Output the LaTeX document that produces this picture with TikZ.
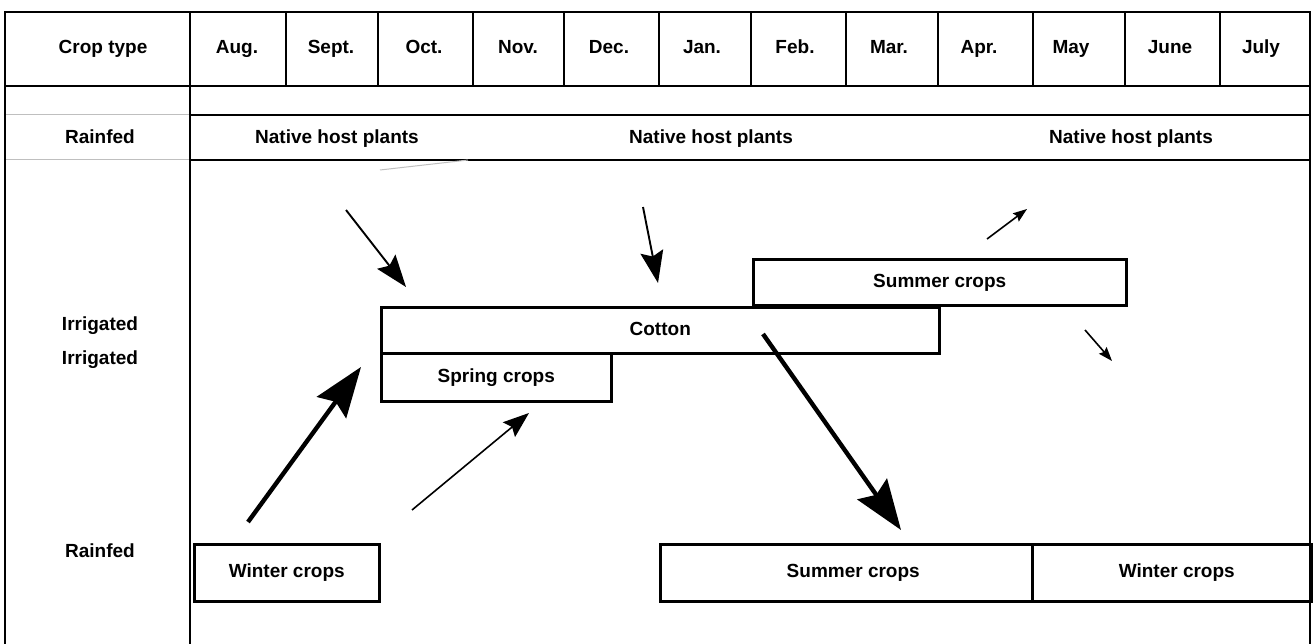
\documentclass[tikz,border=0pt]{standalone}
\usepackage{fontspec}
\setmainfont{Liberation Sans}
\usetikzlibrary{arrows.meta}
\begin{document}
\begin{tikzpicture}[x=1pt,y=-1pt,
  rule/.style={line width=2.4pt, black, line cap=rect},
  faint/.style={line width=1pt, black!25},
  lbl/.style={font=\fontsize{19}{22}\selectfont\bfseries, inner sep=0pt,
    text height=13.5pt, text depth=4pt},
  crop/.style={draw, line width=2.5pt, inner sep=0pt, anchor=north west,
    text height=13.5pt, text depth=4pt,
    font=\fontsize{19}{22}\selectfont\bfseries},
  thinarrow/.style={line width=1.9pt, -{Stealth[length=32pt,width=23pt,inset=5pt]}},
  midarrow/.style={line width=1.6pt, -{Stealth[length=26pt,width=19pt,inset=4pt]}},
  smallarrow/.style={line width=1.6pt, -{Stealth[length=14pt,width=10pt,inset=2pt]}},
  thickarrow/.style={line width=4.4pt, -{Stealth[length=50pt,width=36pt,inset=7pt]}}
]
\useasboundingbox (0,0) rectangle (1313,644);
\fill[white] (0,0) rectangle (1313,644);

% table frame
\draw[rule] (5,12) -- (1310,12);
\draw[rule] (5,86) -- (1310,86);
\draw[rule] (190,115) -- (1310,115);
\draw[rule] (190,160) -- (1310,160);
\draw[faint] (5,115) -- (190,115);
\draw[faint] (5,160) -- (190,160);
\draw[rule] (5,12) -- (5,644);
\draw[rule] (190,12) -- (190,644);
\draw[rule] (1310,12) -- (1310,644);
\foreach \x in {286,378,473,564,659,751,846,938,1033,1125,1220}
  \draw[rule] (\x,12) -- (\x,86);
\draw[faint] (380,170) -- (468,160);

% header
\node[lbl] (hct) at (103,49) {Crop type};
\node[lbl] (haug) at (237,49) {Aug.};
\node[lbl] (hsep) at (331,49) {Sept.};
\node[lbl] (hoct) at (424,49) {Oct.};
\node[lbl] (hnov) at (518,49) {Nov.};
\node[lbl] (hdec) at (609,49) {Dec.};
\node[lbl] (hjan) at (702,49) {Jan.};
\node[lbl] (hfeb) at (795,49) {Feb.};
\node[lbl] (hmar) at (889,49) {Mar.};
\node[lbl] (hapr) at (979,49) {Apr.};
\node[lbl] (hmay) at (1071,49) {May};
\node[lbl] (hjun) at (1170,49) {June};
\node[lbl] (hjul) at (1261,49) {July};

% left labels
\node[lbl] (rf1) at (100,139) {Rainfed};
\node[lbl] (ir1) at (100,326) {Irrigated};
\node[lbl] (ir2) at (100,360) {Irrigated};
\node[lbl] (rf2) at (100,553) {Rainfed};

% native host plants
\node[lbl] (nh1) at (337,139) {Native host plants};
\node[lbl] (nh2) at (711,139) {Native host plants};
\node[lbl] (nh3) at (1131,139) {Native host plants};

% crop boxes
\node[crop, minimum width=373, minimum height=46] (sumup) at (752,258) {Summer crops};
\node[crop, minimum width=558, minimum height=46] (cotton) at (380,306) {Cotton};
\node[crop, minimum width=230, minimum height=48] (spring) at (380,352) {Spring crops};
\node[crop, minimum width=185, minimum height=57] (winl) at (193,543) {Winter crops};
\node[crop, minimum width=372, minimum height=57] (sumlo) at (659,543) {\hspace*{14pt}Summer crops};
\node[crop, minimum width=279, minimum height=57] (winr) at (1031,543) {\hspace*{10pt}Winter crops};

% arrow end points
\coordinate (a1s) at (346,210); \coordinate (a1e) at (406,287);
\coordinate (a2s) at (643,207); \coordinate (a2e) at (658,283);
\coordinate (a3s) at (987,239); \coordinate (a3e) at (1027,209);
\coordinate (a4s) at (1085,330); \coordinate (a4e) at (1112,361);
\coordinate (a5s) at (248,522); \coordinate (a5e) at (361,367);
\coordinate (a6s) at (412,510); \coordinate (a6e) at (529,413);
\coordinate (a7s) at (763,334); \coordinate (a7e) at (901,530);

\draw[thinarrow] (a1s) -- (a1e);
\draw[thinarrow] (a2s) -- (a2e);
\draw[smallarrow] (a3s) -- (a3e);
\draw[smallarrow] (a4s) -- (a4e);
\draw[thickarrow] (a5s) -- (a5e);
\draw[midarrow] (a6s) -- (a6e);
\draw[thickarrow] (a7s) -- (a7e);
\end{tikzpicture}
\end{document}
